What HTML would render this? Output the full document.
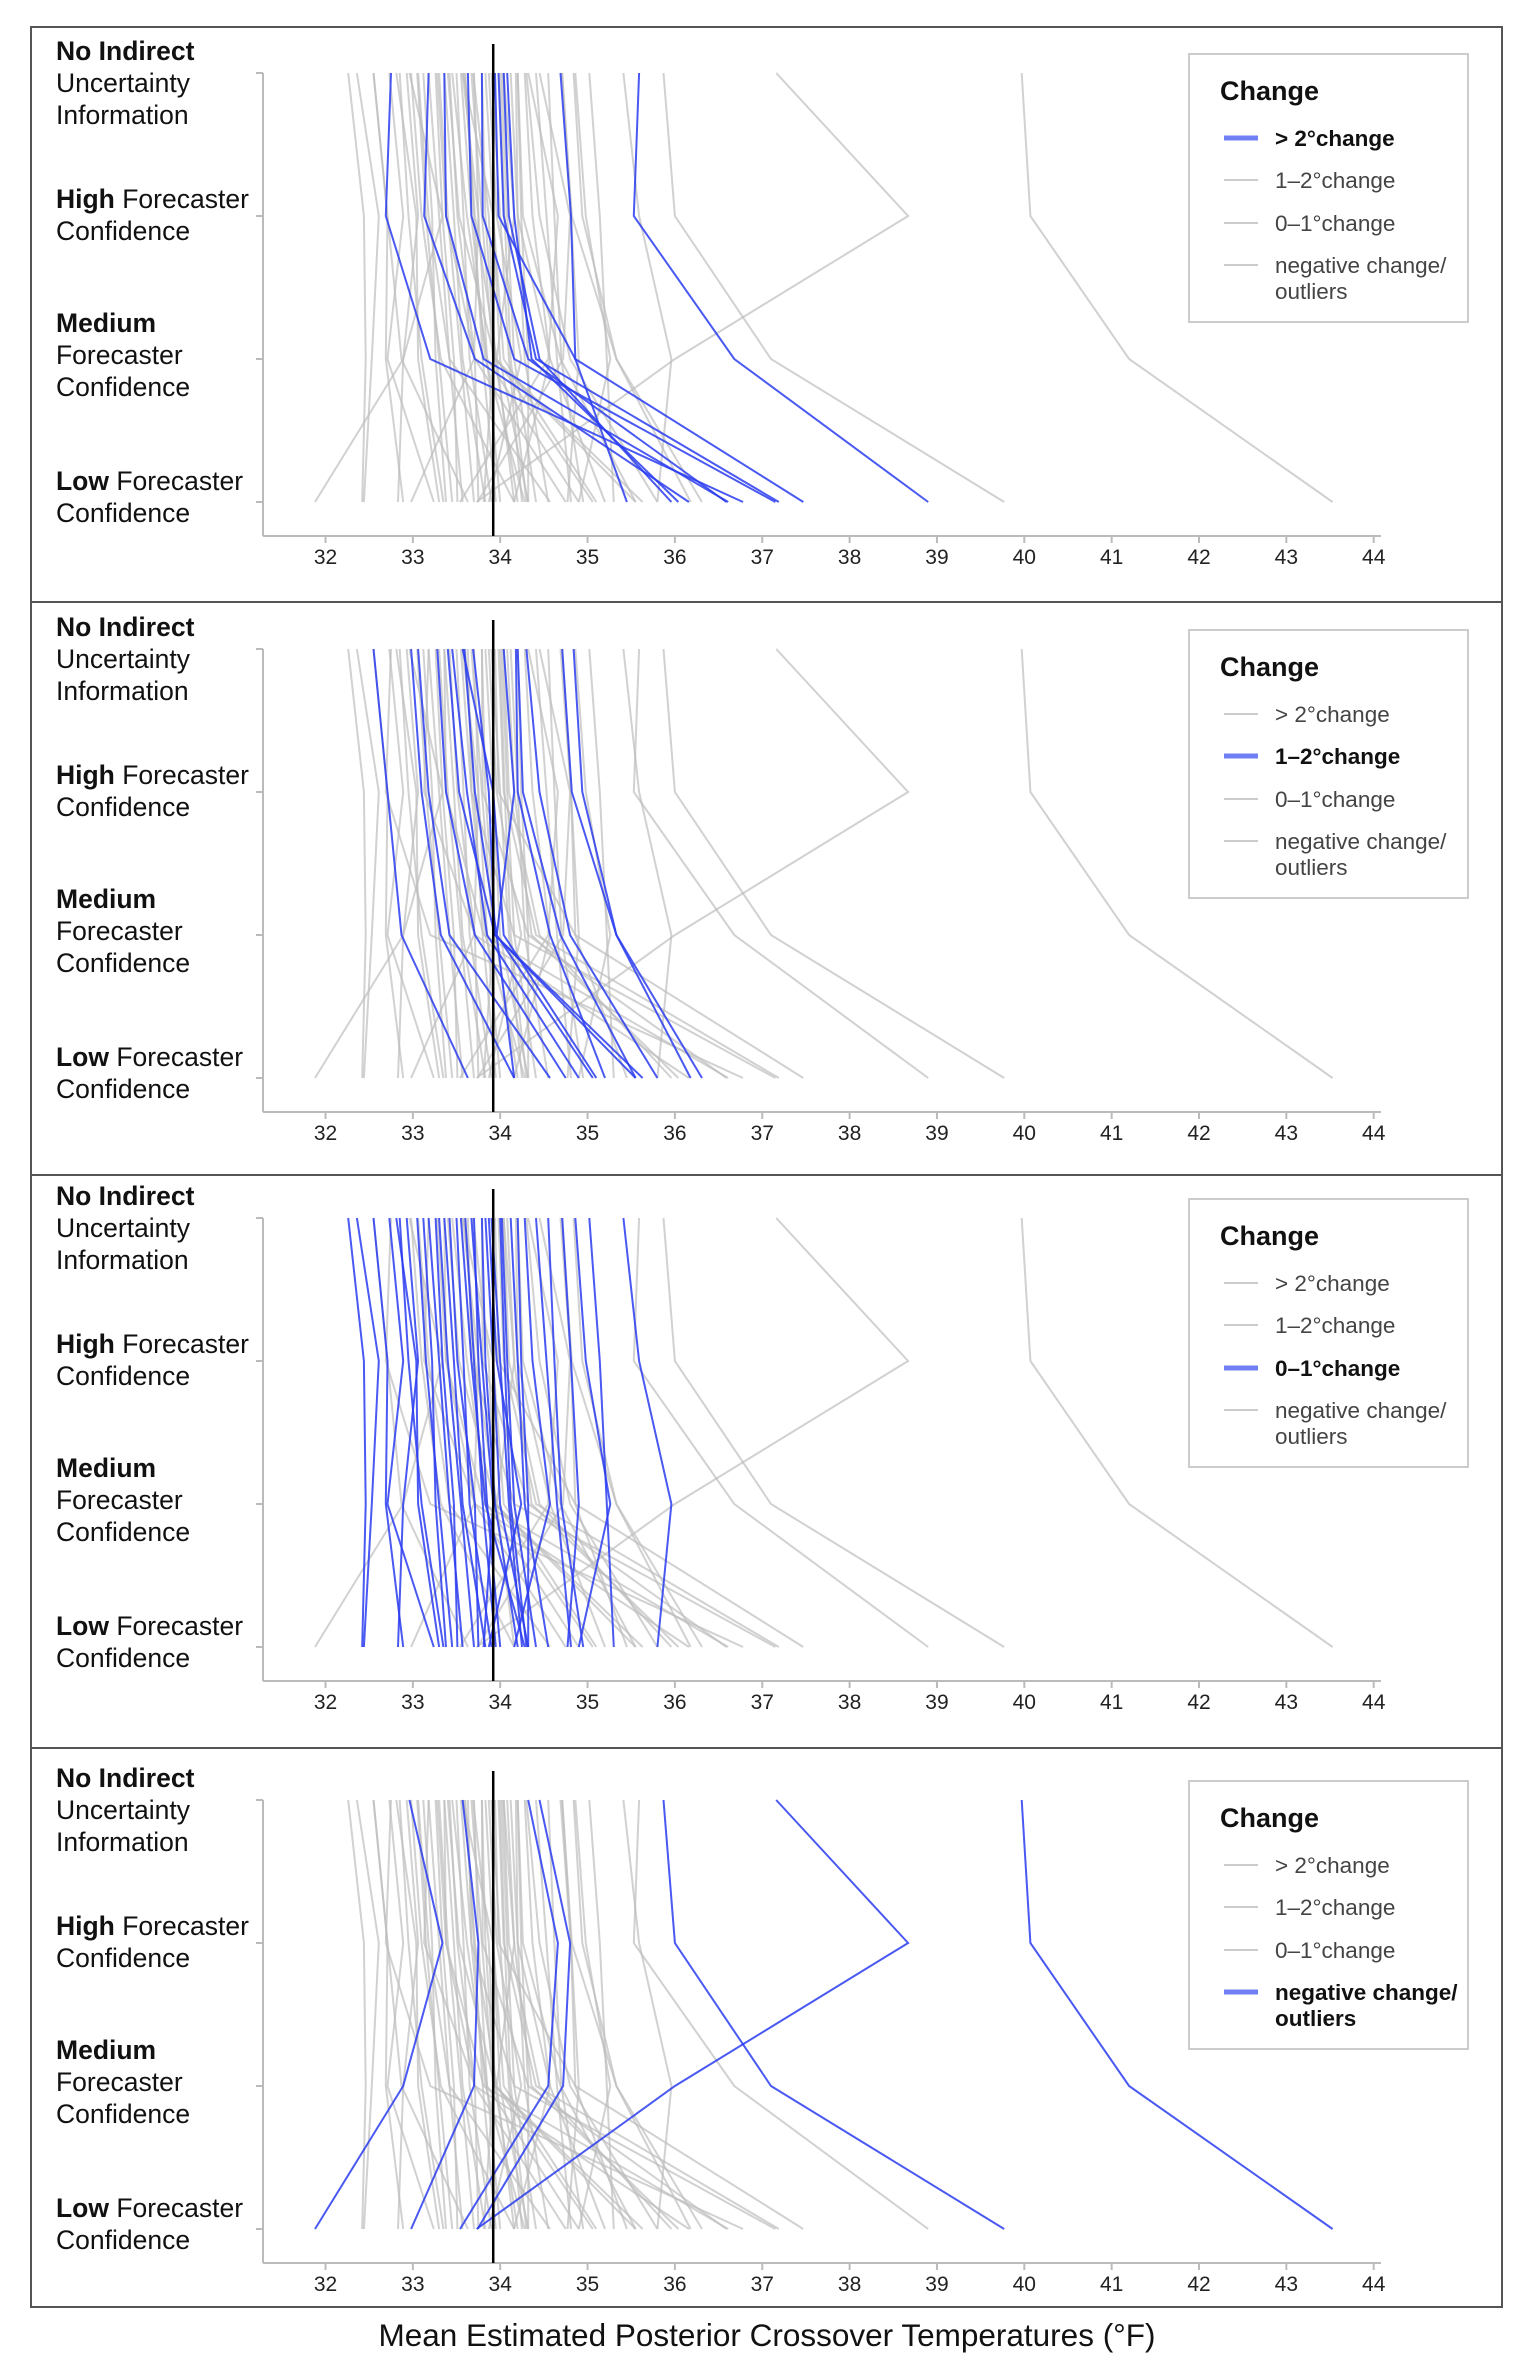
<!DOCTYPE html>
<html><head><meta charset="utf-8"><style>
html,body{margin:0;padding:0;background:#fff}
svg{display:block}
text{font-family:"Liberation Sans",Arial,sans-serif}
</style></head><body>
<svg id="chart" width="1535" height="2374" viewBox="0 0 1535 2374" xmlns="http://www.w3.org/2000/svg"></svg>
<script>
// ---- data (°F) : [NoIndirect, High, Medium, Low] ----
const rowLabels = ["No Indirect Uncertainty Information","High Forecaster Confidence","Medium Forecaster Confidence","Low Forecaster Confidence"];
const xTicks = [32,33,34,35,36,37,38,39,40,41,42,43,44];
const referenceTemp = 33.92;
const categories = ["> 2°change","1–2°change","0–1°change","negative change/ outliers"];
const seriesGt2 = [
 [32.75,32.69,33.2,36.78],[33.18,33.13,33.71,36.16],[33.36,33.38,33.81,36.61],
 [33.63,33.67,34.16,37.15],[33.79,33.8,34.32,36.59],[33.98,34.04,34.41,37.19],
 [34.04,34.1,34.45,35.96],[34.69,34.81,34.86,37.47],[35.59,35.53,36.68,38.9],
 [33.94,33.98,34.86,35.45],[34.08,34.16,34.36,36.04]
];
const series1to2 = [
 [32.55,32.71,32.87,33.63],[32.98,33.1,33.32,34.16],[33.06,33.18,33.42,34.57],
 [33.28,33.38,33.71,34.75],[33.4,33.53,33.94,35.55],[33.59,33.71,33.96,35.06],
 [33.69,33.87,33.94,35.63],[34.04,34.16,33.96,34.16],[34.18,34.2,34.57,35.2],
 [34.2,34.26,34.69,35.55],[34.71,34.82,35.33,36.31],[34.84,34.94,35.33,36.18],
 [33.57,33.92,34.04,35.1],[33.45,33.62,33.85,34.9],[34.3,34.45,34.8,35.8]
];
const series0to1 = [
 [32.26,32.44,32.46,32.42],[32.36,32.61,32.53,32.44],[32.55,32.71,32.69,32.89],
 [32.73,32.89,32.71,33.24],[32.81,33.04,33.06,33.3],[32.93,33.06,32.89,32.83],
 [33.12,33.22,33.26,33.38],[33.26,33.34,33.47,33.51],[33.36,33.47,33.57,33.83],
 [33.42,33.51,33.71,33.75],[33.55,33.67,33.83,34.28],[33.67,33.79,33.92,33.81],
 [33.79,33.83,33.94,34.2],[33.83,33.92,33.998,34.32],[34.02,34.08,34.16,34.41],
 [34.2,34.24,34.32,34.32],[34.28,34.37,34.57,34.16],[34.41,34.53,34.65,34.81],
 [34.71,34.81,34.9,34.77],[34.86,34.98,35.26,34.9],[35.02,35.14,35.22,35.3],
 [35.41,35.59,35.96,35.8],[33.87,33.96,34.24,33.87],[33.18,33.3,33.42,33.57],
 [32.85,32.95,33.1,33.35],[33.05,33.15,33.3,33.45],[33.5,33.58,33.65,33.9],
 [33.7,33.75,33.85,34.0],[33.9,34.0,34.1,34.25],[34.12,34.2,34.28,34.55],
 [34.55,34.62,34.7,34.95],[33.6,33.7,33.8,33.95],[34.0,34.05,34.12,34.3],
 [33.3,33.4,33.55,33.7]
];
const seriesNeg = [
 [32.96,33.34,32.89,31.88],[33.57,33.75,33.7,32.98],[34.32,34.66,34.55,33.54],
 [34.45,34.8,34.72,33.74],[37.16,38.67,36.0,33.73],[35.87,36.0,37.1,39.77],
 [39.97,40.07,41.2,43.53]
];
const groups = [seriesGt2, series1to2, series0to1, seriesNeg];

// ---- layout ----
const NS="http://www.w3.org/2000/svg";
const svg=document.getElementById('chart');
const panelTops=[27,602,1175,1748], panelBottom=2307, axisYs=[536,1112,1681,2263];
const rowOffsets=[-463,-320,-177,-34];
function xs(v){return 325.5+(v-32)*87.35;}
function mk(tag,attrs,parent){const e=document.createElementNS(NS,tag);for(const k in attrs)e.setAttribute(k,attrs[k]);(parent||svg).appendChild(e);return e;}

const title=mk('text',{x:767,y:2346,'text-anchor':'middle','font-size':31.5,fill:'#111'});


title.textContent='Mean Estimated Posterior Crossover Temperatures (°F)';

const labelLines=[
 [[["No Indirect",true]],[["Uncertainty",false]],[["Information",false]]],
 [[["High",true],[" Forecaster",false]],[["Confidence",false]]],
 [[["Medium",true]],[["Forecaster",false]],[["Confidence",false]]],
 [[["Low",true],[" Forecaster",false]],[["Confidence",false]]]
];
const labelBase=[[-13,19,51],[-8,24],[-27,5,37],[-12,20]];

for(let p=0;p<4;p++){
  const g=mk('g',{});
  
  
  const top=panelTops[p], bot=(p<3?panelTops[p+1]:panelBottom), ay=axisYs[p];
  const border=mk('rect',{x:31,y:top,width:1471,height:bot-top,fill:'none',stroke:'#555','stroke-width':2},g);
  
  
  const rows=rowOffsets.map(o=>ay+o);
  const yAxis=mk('line',{x1:263,y1:rows[0],x2:263,y2:ay,stroke:'#bbb','stroke-width':2},g);
  
  
  rows.forEach(r=>{mk('line',{x1:256,y1:r,x2:263,y2:r,stroke:'#bbb','stroke-width':2},g);});
  const xAxis=mk('line',{x1:263,y1:ay,x2:1381,y2:ay,stroke:'#bbb','stroke-width':2},g);
  
  
  xTicks.forEach(t=>{
    mk('line',{x1:xs(t),y1:ay,x2:xs(t),y2:ay+7,stroke:'#bbb','stroke-width':2},g);
    const tl=mk('text',{x:xs(t),y:ay+28,'text-anchor':'middle','font-size':21,fill:'#222'},g);
    
    
    tl.textContent=t;
  });
  for(let r=0;r<4;r++){
    labelLines[r].forEach((line,li)=>{
      const t=mk('text',{x:56,y:rows[r]+labelBase[r][li],'font-size':26.5,fill:'#111'},g);
      
      
      line.forEach(([s,b])=>{const ts=mk('tspan',{'font-weight':b?'bold':'normal'},t);ts.textContent=s;});
    });
  }
  function drawLine(vals,hi){
    const pts=vals.map((v,i)=>xs(v).toFixed(1)+','+rows[i]).join(' ');
    const pl=mk('polyline',{points:pts,fill:'none',stroke:hi?'#2a3cf0':'#bdbdbd','stroke-opacity':hi?0.85:0.7,'stroke-width':2},g);
    
    
  }
  groups.forEach((grp,gi)=>{if(gi!==p)grp.forEach(v=>drawLine(v,false));});
  groups[p].forEach(v=>drawLine(v,true));
  const ref=mk('line',{x1:xs(referenceTemp),y1:ay-492,x2:xs(referenceTemp),y2:ay,stroke:'#000','stroke-width':2.5},g);
  
  
  const lt=ay-482;
  const lg=mk('g',{},g);
  
  
  mk('rect',{x:1189,y:lt,width:279,height:268,fill:'#fff',stroke:'#ccc','stroke-width':2},lg);
  const lh=mk('text',{x:1220,y:lt+46,'font-size':27,'font-weight':'bold',fill:'#111'},lg);
  
  
  lh.textContent='Change';
  const ey=[84,126,169,211];
  categories.forEach((c,ci)=>{
    const sel=ci===p;
    const e=mk('g',{},lg);
    
    
    mk('line',{x1:1224,y1:lt+ey[ci],x2:1258,y2:lt+ey[ci],stroke:sel?'#7080f4':'#ccc','stroke-width':sel?5:2},e);
    const parts=c.split(' outliers');
    const t=mk('text',{x:1275,y:lt+ey[ci]+8,'font-size':22.5,'font-weight':sel?'bold':'normal',fill:sel?'#111':'#444'},e);
    t.textContent=parts[0];
    if(parts.length>1){
      const t2=mk('text',{x:1275,y:lt+ey[ci]+34,'font-size':22.5,'font-weight':sel?'bold':'normal',fill:sel?'#111':'#444'},e);
      t2.textContent='outliers';
    }
  });
}
</script>
</body></html>
